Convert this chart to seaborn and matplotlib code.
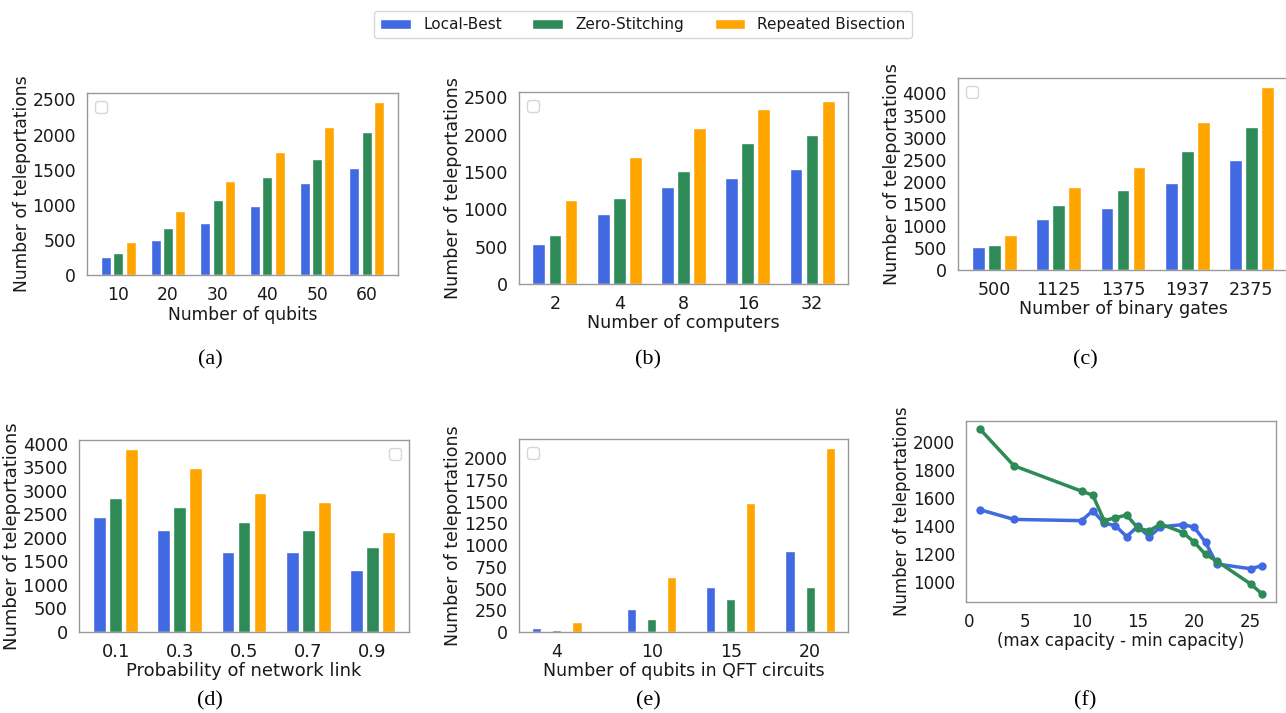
import numpy as np
import pandas as pd
import matplotlib
matplotlib.use("Agg")
import matplotlib.pyplot as plt
import seaborn as sns
from matplotlib.patches import Patch

METHODS = ["Local-Best", "Zero-Stitching", "Repeated Bisection"]
COLORS = ["royalblue", "seagreen", "orange"]

# (a) number of qubits
qubits = [10, 20, 30, 40, 50, 60]
a_local = [261, 502, 739, 986, 1308, 1521]
a_zero = [308, 673, 1071, 1398, 1659, 2038]
a_bisect = [469, 915, 1332, 1749, 2109, 2469]

# (b) number of computers
computers = [2, 4, 8, 16, 32]
b_local = [533, 941, 1292, 1425, 1545]
b_zero = [653, 1146, 1514, 1883, 1998]
b_bisect = [1119, 1705, 2091, 2345, 2447]

# (c) number of binary gates
gates = [500, 1125, 1375, 1937, 2375]
c_local = [510, 1149, 1404, 1982, 2492]
c_zero = [563, 1464, 1802, 2703, 3236]
c_bisect = [788, 1877, 2342, 3363, 4144]

# (d) probability of network link
probs = [0.1, 0.3, 0.5, 0.7, 0.9]
d_local = [2440, 2165, 1693, 1693, 1319]
d_zero = [2842, 2652, 2348, 2160, 1805]
d_bisect = [3886, 3477, 2948, 2757, 2116]

# (e) qubits in QFT circuits
qft = [4, 10, 15, 20]
e_local = [46, 264, 521, 935]
e_zero = [27, 153, 379, 521]
e_bisect = [111, 632, 1483, 2115]

# (f) capacity spread
spread = [1, 4, 10, 11, 12, 13, 14, 15, 16, 17, 19, 20, 21, 22, 25, 26]
f_local = [1514, 1445, 1436, 1507, 1419, 1400, 1322, 1396, 1320, 1391,
           1408, 1389, 1280, 1126, 1092, 1114]
f_zero = [2090, 1829, 1647, 1618, 1436, 1457, 1476, 1382, 1363, 1412,
          1351, 1282, 1194, 1147, 983, 913]

W, H = 1286, 713


def long_df(xs, series):
    df = pd.DataFrame({"x": xs, **dict(zip(METHODS, series))})
    return df.melt(id_vars="x", var_name="method", value_name="value")


def add_axes(fig, left, right, top, bottom):
    return fig.add_axes([left / W, 1 - bottom / H, (right - left) / W, (bottom - top) / H])


def style_axes(ax, size):
    # each sub-figure was scaled a little differently in the original
    ax.tick_params(axis="both", labelsize=size, pad=2)
    ax.xaxis.label.set_size(size)
    ax.yaxis.label.set_size(size)
    ax.xaxis.labelpad = 1
    ax.yaxis.labelpad = 1
    ax.grid(False)


def bar_panel(ax, xs, series, xlabel, legend_loc, size, native=False):
    df = long_df(xs, series)
    if native:
        sns.barplot(data=df, x="x", y="value", hue="method", hue_order=METHODS,
                    palette=COLORS, saturation=1, width=0.76, gap=0.55,
                    edgecolor="white", linewidth=1, errorbar=None,
                    native_scale=True, legend=False, ax=ax)
    else:
        sns.barplot(data=df, x="x", y="value", hue="method", hue_order=METHODS,
                    palette=COLORS, saturation=1, width=0.75, gap=0.2,
                    edgecolor="white", linewidth=1, errorbar=None,
                    legend=False, ax=ax)
    ax.set_xlabel(xlabel)
    ax.set_ylabel("Number of teleportations")
    style_axes(ax, size)
    ax.legend(handles=[], loc=legend_loc)


sns.set_theme(style="whitegrid", rc={
    "axes.edgecolor": "0.6",
    "axes.linewidth": 1.0,
    "legend.fontsize": 11,
    "text.color": "0.1",
    "axes.labelcolor": "0.1",
    "xtick.color": "0.1",
    "ytick.color": "0.1",
})
plt.rcParams["font.family"] = ["DejaVu Sans"]

fig = plt.figure(figsize=(W / 100, H / 100), dpi=100)

ax_a = add_axes(fig, 87, 398, 93, 275)
bar_panel(ax_a, qubits, [a_local, a_zero, a_bisect], "Number of qubits", "upper left", 12.3)
ax_a.set_xlim(-0.63, len(qubits) - 1 + 0.63)
ax_a.set_yticks([0, 500, 1000, 1500, 2000, 2500])

ax_b = add_axes(fig, 519, 848, 92, 284)
bar_panel(ax_b, computers, [b_local, b_zero, b_bisect], "Number of computers", "upper left", 12.6)
ax_b.set_xlim(-0.56, len(computers) - 1 + 0.56)
ax_b.set_yticks([0, 500, 1000, 1500, 2000, 2500])

ax_c = add_axes(fig, 958, 1288, 78, 270)
bar_panel(ax_c, gates, [c_local, c_zero, c_bisect], "Number of binary gates", "upper left", 12.6)
ax_c.set_xlim(-0.57, len(gates) - 1 + 0.57)
ax_c.set_yticks(np.arange(0, 4001, 500))

ax_d = add_axes(fig, 79, 409, 440, 632)
bar_panel(ax_d, probs, [d_local, d_zero, d_bisect], "Probability of network link", "upper right", 13)
ax_d.set_xlim(-0.57, len(probs) - 1 + 0.57)
ax_d.set_yticks(np.arange(0, 4001, 500))

ax_e = add_axes(fig, 519, 848, 439, 632)
bar_panel(ax_e, qft, [e_local, e_zero, e_bisect], "Number of qubits in QFT circuits",
          "upper left", 12.5, native=True)
ax_e.set_xlim(1.6, 22.4)
ax_e.set_xticks(qft)
ax_e.set_yticks(np.arange(0, 2001, 250))

ax_f = add_axes(fig, 966, 1276, 421, 602)
df_f = long_df(spread, [f_local, f_zero])
sns.lineplot(data=df_f, x="x", y="value", hue="method", hue_order=METHODS[:2],
             palette=COLORS[:2], marker="o", markersize=6, markeredgewidth=0,
             linewidth=2.5, errorbar=None, legend=False, ax=ax_f)
ax_f.set_xlabel("(max capacity - min capacity)")
ax_f.set_ylabel("Number of teleportations")
style_axes(ax_f, 12)
ax_f.set_xticks([0, 5, 10, 15, 20, 25])
ax_f.set_yticks([1000, 1200, 1400, 1600, 1800, 2000])

# shared legend at the top
handles = [Patch(facecolor=c, label=m) for c, m in zip(COLORS, METHODS)]
fig.legend(handles=handles, loc="upper center", bbox_to_anchor=(0.5, 0.995),
           ncol=3, frameon=True, columnspacing=2.0, fontsize=11)

# sub-captions
for label, x, y in [("(a)", 210, 360), ("(b)", 648, 360), ("(c)", 1085, 360),
                    ("(d)", 210, 701), ("(e)", 648, 701), ("(f)", 1085, 701)]:
    fig.text(x / W, 1 - y / H, label, ha="center", va="center",
             fontsize=16, family=["Liberation Serif", "DejaVu Serif"], color="black")

fig.savefig("out.png", dpi=100)
